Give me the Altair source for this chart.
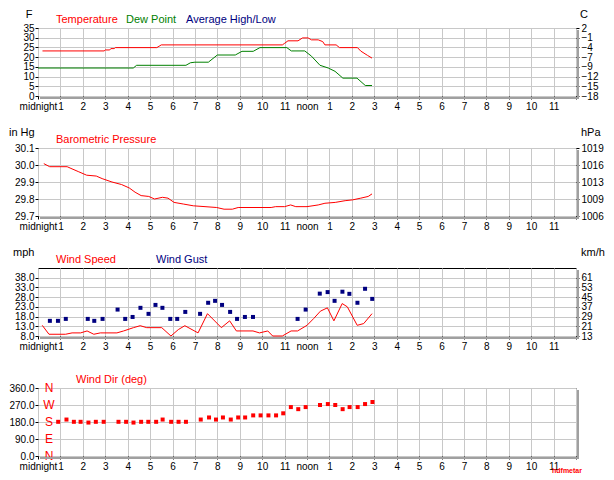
import altair as alt
import pandas as pd

# ---------------- data ----------------
HOUR_LABELS = ["midnight", "1", "2", "3", "4", "5", "6", "7", "8", "9", "10", "11",
               "noon", "1", "2", "3", "4", "5", "6", "7", "8", "9", "10", "11", ""]

TEMP_HOURS = [0.2, 2.95, 3.0, 3.2, 3.25, 3.4, 3.45, 5.3, 5.4, 5.5, 10.9, 11.0, 11.15, 11.6,
              11.8, 12.05, 12.2, 12.5, 12.7, 12.8, 13.3, 13.45, 14.25, 14.4, 14.7, 14.9]
TEMP_F = [23.2, 23.2, 23.7, 23.7, 24.4, 24.4, 24.9, 24.9, 25.6, 26.3, 26.3, 27.1, 28.4, 28.4,
          29.9, 29.9, 28.9, 28.9, 28.0, 26.3, 26.3, 24.9, 24.9, 23.1, 20.9, 19.5]

DEW_HOURS = [0.0, 4.25, 4.4, 6.6, 6.8, 7.0, 7.6, 8.0, 8.8, 9.1, 9.6, 9.9, 11.1, 11.3, 11.9,
             12.2, 12.58, 12.95, 13.25, 13.6, 14.23, 14.6, 14.9]
DEW_F = [14.4, 14.4, 15.8, 15.8, 17.1, 17.4, 17.4, 21.1, 21.1, 23.0, 23.0, 24.9, 24.9, 23.2, 23.2,
         20.5, 15.8, 14.4, 12.7, 9.2, 9.2, 5.4, 5.4]

PRES_HOURS = [0.26, 0.52, 1.3, 1.47, 1.82, 2.17, 2.6, 2.86, 3.3, 3.73, 4.07, 4.33, 4.6, 4.94,
              5.2, 5.55, 5.8, 6.07, 6.5, 6.93, 7.45, 7.97, 8.3, 8.67, 8.93, 10.4, 10.6, 11.0,
              11.27, 11.5, 12.0, 12.5, 12.8, 13.26, 13.7, 14.04, 14.4, 14.73, 14.9]
PRES_INHG = [30.008, 29.99, 29.99, 29.98, 29.96, 29.94, 29.935, 29.92, 29.90, 29.885, 29.865,
             29.84, 29.82, 29.815, 29.80, 29.81, 29.805, 29.78, 29.77, 29.76, 29.755, 29.75,
             29.74, 29.74, 29.75, 29.75, 29.755, 29.755, 29.765, 29.755, 29.755, 29.765, 29.775,
             29.78, 29.79, 29.795, 29.805, 29.815, 29.83]

WIND_HOURS = [0.19, 0.49, 1.23, 1.52, 1.9, 2.19, 2.49, 2.78, 3.52, 3.82, 4.26, 4.56, 4.85, 5.52,
              5.93, 6.26, 6.55, 7.14, 7.56, 8.18, 8.55, 8.85, 9.59, 9.88, 10.25, 10.47, 10.9,
              11.29, 11.58, 12.0, 12.3, 12.6, 12.91, 13.2, 13.57, 13.8, 14.24, 14.53, 14.9]
WIND_MPH = [13.5, 8.9, 8.9, 9.6, 9.6, 10.6, 8.9, 9.6, 9.6, 10.6, 12.3, 13.3, 12.3, 12.3,
            8.0, 11.3, 13.3, 9.6, 19.5, 12.3, 15.8, 10.6, 10.6, 9.6, 10.6, 8.0, 8.0,
            10.6, 10.6, 13.5, 17.0, 20.8, 22.5, 15.8, 24.7, 23.0, 13.5, 14.4, 19.5]

GUST_HOURS = [0.53, 0.89, 1.24, 2.22, 2.51, 2.88, 3.55, 3.89, 4.22, 4.57, 4.93, 5.24, 5.55,
              5.9, 6.21, 6.57, 7.23, 7.59, 7.9, 8.21, 8.57, 8.88, 9.23, 9.59, 11.58, 11.94,
              12.57, 12.92, 13.23, 13.58, 13.89, 14.25, 14.59, 14.91]
GUST_MPH = [15.8, 15.8, 16.8, 16.8, 15.8, 16.8, 21.6, 16.8, 17.8, 22.5, 19.4, 24.0, 22.5,
            16.8, 16.8, 20.4, 19.4, 25.1, 26.1, 24.0, 20.4, 16.8, 17.8, 17.8, 16.8, 21.6,
            29.8, 30.6, 26.1, 30.8, 29.7, 25.1, 32.3, 27.1]

DIR_HOURS = [0.9, 1.27, 1.6, 1.9, 2.25, 2.58, 2.93, 3.59, 3.93, 4.26, 4.6, 4.92, 5.27, 5.56,
             5.94, 6.27, 6.6, 7.26, 7.63, 7.94, 8.25, 8.6, 8.93, 9.24, 9.6, 9.93, 10.28,
             10.62, 10.94, 11.28, 11.61, 11.94, 12.58, 12.93, 13.26, 13.59, 13.9, 14.26,
             14.59, 14.92]
DIR_DEG = [181, 193, 181, 181, 177, 181, 181, 181, 181, 177, 181, 181, 181, 193,
           181, 181, 181, 193, 204, 193, 204, 193, 204, 204, 215, 215, 215,
           215, 226, 259, 248, 259, 270, 275, 270, 248, 259, 259,
           275, 286]

COMPASS_LABELS = ["N", "W", "S", "E", "N"]
COMPASS_DEG = [360, 270, 180, 90, 0]

# ---------------- styling ----------------
W, H = 538, 68
FONT = "Liberation Sans"
RED, GREEN, NAVY = "#ff0000", "#008000", "#000080"
GRID = "#c8c8c8"

x_scale = alt.Scale(domain=[0, 24], nice=False, zero=False)
label_expr = "[" + ",".join("'%s'" % s for s in HOUR_LABELS) + "][datum.value]"
x_axis = alt.Axis(values=list(range(25)), labelExpr=label_expr, title="", grid=True,
                  gridColor=GRID, tickColor="black", tickSize=3, labelOverlap=False,
                  labelFlush=False, domain=False, labelFontSize=10, labelPadding=2,
                  labelColor="black", labelFont=FONT)


def X():
    return alt.X("h:Q", scale=x_scale, axis=x_axis)


def left_axis(values, fmt):
    return alt.Axis(values=values, format=fmt, title="", grid=True, gridColor=GRID,
                    tickColor="black", tickSize=3, labelPadding=1, domain=False,
                    labelFontSize=10, labelColor="black", labelFont=FONT,
                    labelOverlap=False, labelFlush=False)


def right_axis(values, expr):
    return alt.Axis(orient="right", values=values, labelExpr=expr, title="", grid=False,
                    tickColor="black", tickSize=3, labelPadding=2, domain=False,
                    labelFontSize=10, labelColor="black", labelFont=FONT, labelAlign="left",
                    labelOverlap=False, labelFlush=False)


def txt(s, x, y, color="black", size=11, align="left", weight="normal", baseline="alphabetic"):
    return alt.Chart(pd.DataFrame({"t": [s]})).mark_text(
        align=align, baseline=baseline, font=FONT, fontSize=size, color=color,
        fontWeight=weight
    ).encode(x=alt.value(x), y=alt.value(y), text="t:N")


def shadow():
    one = pd.DataFrame({"a": [0]})
    r1 = alt.Chart(one).mark_rule(color="#a0a0a0", strokeWidth=2).encode(
        x=alt.value(W + 2), y=alt.value(2), y2=alt.value(H + 3))
    r2 = alt.Chart(one).mark_rule(color="#a0a0a0", strokeWidth=2).encode(
        y=alt.value(H + 2), x=alt.value(2), x2=alt.value(W + 3))
    return [r1, r2]


def series(hours, vals, name):
    return pd.DataFrame({"h": hours, "v": vals, "s": name})


# ---------------- panel 1: temperature ----------------
t_df = series(TEMP_HOURS, TEMP_F, "Temperature")
d_df = series(DEW_HOURS, DEW_F, "Dew Point")
s1 = alt.Scale(domain=[0, 35], nice=False, zero=False)
v1 = list(range(0, 40, 5))
temp_line = alt.Chart(t_df).mark_line(color=RED, strokeWidth=1).encode(
    x=X(), y=alt.Y("v:Q", scale=s1, axis=left_axis(v1, ".0f")))
dew_line = alt.Chart(d_df).mark_line(color=GREEN, strokeWidth=1).encode(
    x=X(), y=alt.Y("v:Q", scale=s1, axis=left_axis(v1, ".0f")))
c_right = alt.Chart(t_df).mark_line(opacity=0).encode(
    x=X(), y=alt.Y("v:Q", scale=s1,
                   axis=right_axis(v1, "format((datum.value-32)*5/9, '.0f')")))
p1 = alt.layer(
    alt.layer(temp_line, dew_line), c_right,
    *shadow(),
    txt("F", -9, -10, align="center"),
    txt("C", W + 8, -10, align="center"),
    txt("Temperature", 18, -5, RED),
    txt("Dew Point", 88, -5, GREEN),
    txt("Average High/Low", 148, -5, NAVY),
).resolve_scale(y="independent").properties(width=W, height=H)

# ---------------- panel 2: pressure ----------------
p_df = series(PRES_HOURS, PRES_INHG, "Pressure")
s2 = alt.Scale(domain=[29.7, 30.1], nice=False, zero=False)
v2 = [29.7, 29.8, 29.9, 30.0, 30.1]
pres_line = alt.Chart(p_df).mark_line(color=RED, strokeWidth=1).encode(
    x=X(), y=alt.Y("v:Q", scale=s2, axis=left_axis(v2, ".1f")))
hpa_right = alt.Chart(p_df).mark_line(opacity=0).encode(
    x=X(), y=alt.Y("v:Q", scale=s2,
                   axis=right_axis(v2, "format(datum.value*33.8639, '.0f')")))
p2 = alt.layer(
    pres_line, hpa_right,
    *shadow(),
    txt("in Hg", -29, -12),
    txt("hPa", W + 5, -12),
    txt("Barometric Pressure", 18, -5, RED),
).resolve_scale(y="independent").properties(width=W, height=H)

# ---------------- panel 3: wind ----------------
w_df = series(WIND_HOURS, WIND_MPH, "Wind Speed")
g_df = series(GUST_HOURS, GUST_MPH, "Wind Gust")
s3 = alt.Scale(domain=[8, 43], nice=False, zero=False)
v3 = [8, 13, 18, 23, 28, 33, 38]
wind_line = alt.Chart(w_df).mark_line(color=RED, strokeWidth=1).encode(
    x=X(), y=alt.Y("v:Q", scale=s3, axis=left_axis(v3, ".1f")))
gust_pts = alt.Chart(g_df).mark_square(color=NAVY, size=16, opacity=1).encode(
    x=X(), y=alt.Y("v:Q", scale=s3, axis=left_axis(v3, ".1f")))
kmh_right = alt.Chart(w_df).mark_line(opacity=0).encode(
    x=X(), y=alt.Y("v:Q", scale=s3,
                   axis=right_axis(v3, "format(datum.value*1.609344, '.0f')")))
p3 = alt.layer(
    alt.layer(wind_line, gust_pts), kmh_right,
    *shadow(),
    txt("mph", -25, -12),
    txt("km/h", W + 5, -12),
    txt("Wind Speed", 18, -5, RED),
    txt("Wind Gust", 118, -5, NAVY),
).resolve_scale(y="independent").properties(width=W, height=H)

# ---------------- panel 4: wind direction ----------------
dir_df = series(DIR_HOURS, DIR_DEG, "Wind Dir")
comp_df = pd.DataFrame({"lab": COMPASS_LABELS, "v": COMPASS_DEG})
s4 = alt.Scale(domain=[0, 360], nice=False, zero=False)
v4 = [0, 90, 180, 270, 360]
dir_pts = alt.Chart(dir_df).mark_square(color=RED, size=16, opacity=1).encode(
    x=X(), y=alt.Y("v:Q", scale=s4, axis=left_axis(v4, ".1f")))
comp_txt = alt.Chart(comp_df).mark_text(
    color=RED, font=FONT, fontSize=12, align="center", baseline="middle"
).encode(x=alt.value(11), y=alt.Y("v:Q", scale=s4, axis=left_axis(v4, ".1f")),
         text="lab:N")
p4 = alt.layer(
    dir_pts, comp_txt,
    *shadow(),
    txt("Wind Dir (deg)", 38, -5, RED),
    txt("hdfmetar", W - 24, H + 17, RED, size=7, weight="bold"),
).properties(width=W, height=H)

chart = alt.vconcat(p1, p2, p3, p4, spacing=52, bounds="flush").properties(
    padding=0, background="white"
).configure_view(stroke="black", strokeWidth=1).configure_axis(
    labelFont=FONT
)

chart.save("out.html", embed_options={"renderer": "svg", "actions": False})
